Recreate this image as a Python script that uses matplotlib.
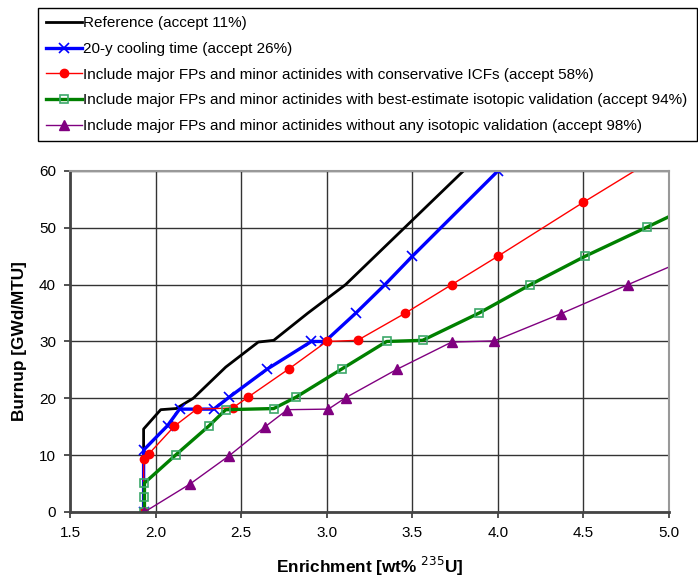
import numpy as np
import matplotlib
matplotlib.use("Agg")
import matplotlib.pyplot as plt

plt.rcParams['font.family'] = ['Liberation Sans', 'DejaVu Sans']

# series: enrichment (wt%) vs burnup (GWd/MTU)
ref_x = [1.93, 1.93, 1.93, 2.03, 2.12, 2.22, 2.41, 2.60, 2.69, 2.89, 3.11, 3.85]
ref_y = [0.0, 10.0, 14.6, 18.0, 18.2, 20.0, 25.5, 29.9, 30.2, 35.0, 40.0, 61.5]

cool_x = [1.93, 1.93, 2.07, 2.14, 2.34, 2.43, 2.65, 2.91, 2.99, 3.17, 3.34, 3.50, 4.00]
cool_y = [0.0, 10.9, 15.2, 18.1, 18.1, 20.2, 25.1, 30.0, 30.0, 35.0, 40.0, 45.0, 60.0]

icf_x = [1.93, 1.93, 1.96, 2.11, 2.24, 2.45, 2.54, 2.78, 3.00, 3.18, 3.46, 3.73, 4.00, 4.50, 4.88]
icf_y = [0.0, 9.3, 10.2, 15.1, 18.1, 18.3, 20.2, 25.2, 30.0, 30.2, 35.0, 40.0, 45.0, 54.5, 61.5]

best_x = [1.935, 1.935, 1.935, 2.12, 2.31, 2.41, 2.69, 2.82, 3.09, 3.35, 3.56, 3.89, 4.19, 4.51, 4.87, 5.10]
best_y = [0.0, 2.7, 5.1, 10.1, 15.1, 18.0, 18.2, 20.2, 25.2, 30.0, 30.2, 35.0, 40.0, 45.0, 50.1, 53.4]

none_x = [1.935, 2.20, 2.43, 2.64, 2.77, 3.01, 3.11, 3.41, 3.73, 3.98, 4.37, 4.76, 5.10]
none_y = [0.0, 4.9, 9.9, 15.0, 18.0, 18.1, 20.1, 25.1, 29.9, 30.1, 34.9, 40.0, 44.4]

labels = [
    "Reference (accept 11%)",
    "20-y cooling time (accept 26%)",
    "Include major FPs and minor actinides with conservative ICFs (accept 58%)",
    "Include major FPs and minor actinides with best-estimate isotopic validation (accept 94%)",
    "Include major FPs and minor actinides without any isotopic validation (accept 98%)",
]

xticks = [1.5, 2.0, 2.5, 3.0, 3.5, 4.0, 4.5, 5.0]
yticks = [0, 10, 20, 30, 40, 50, 60]

fig = plt.figure(figsize=(6.98, 5.78), dpi=100)
ax = fig.add_axes([0.1003, 0.1142, 0.8582, 0.5900])

ax.plot(ref_x, ref_y, color='black', lw=2.0, label=labels[0])
ax.plot(cool_x, cool_y, color='#0000FF', lw=2.4, marker='x', ms=7, mew=1.2,
        label=labels[1])
ax.plot(icf_x, icf_y, color='#FF0000', lw=1.0, marker='o', ms=6,
        label=labels[2])
ax.plot(best_x, best_y, color='#008000', lw=2.4, marker='s', ms=6,
        mfc='none', mec='#3CA86A', mew=1.2, label=labels[3])
ax.plot(none_x, none_y, color='#800080', lw=1.0, marker='^', ms=7,
        label=labels[4])

ax.set_xlim(1.5, 5.0)
ax.set_ylim(0, 60)
ax.set_xticks(xticks)
ax.set_yticks(yticks)
ax.set_xticklabels([f"{v:.1f}" for v in xticks])
ax.grid(True, color='#333333', lw=1.0)
ax.set_axisbelow(True)
ax.tick_params(labelsize=11, length=4, width=1.2, color='#333333', pad=6)

for s in ['top', 'right']:
    ax.spines[s].set_color('#999999')
    ax.spines[s].set_linewidth(1.5)
for s in ['left', 'bottom']:
    ax.spines[s].set_color('#444444')
    ax.spines[s].set_linewidth(2.0)

ax.set_xlabel("Enrichment [wt% $^{235}$U]", fontsize=12.4, fontweight='bold',
              labelpad=11)
ax.set_ylabel("Burnup [GWd/MTU]", fontsize=12.4, fontweight='bold', labelpad=9)

leg = fig.legend(loc='upper left', bbox_to_anchor=(0.0544, 0.986, 0.944, 0.0),
                 mode='expand', fontsize=11, numpoints=1, handlelength=2.3,
                 handletextpad=0.08, labelspacing=0.76, borderpad=0.55,
                 borderaxespad=0.0, fancybox=False, framealpha=1.0,
                 edgecolor='black')
leg.get_frame().set_linewidth(1.0)

fig.savefig("out.png", dpi=100)
